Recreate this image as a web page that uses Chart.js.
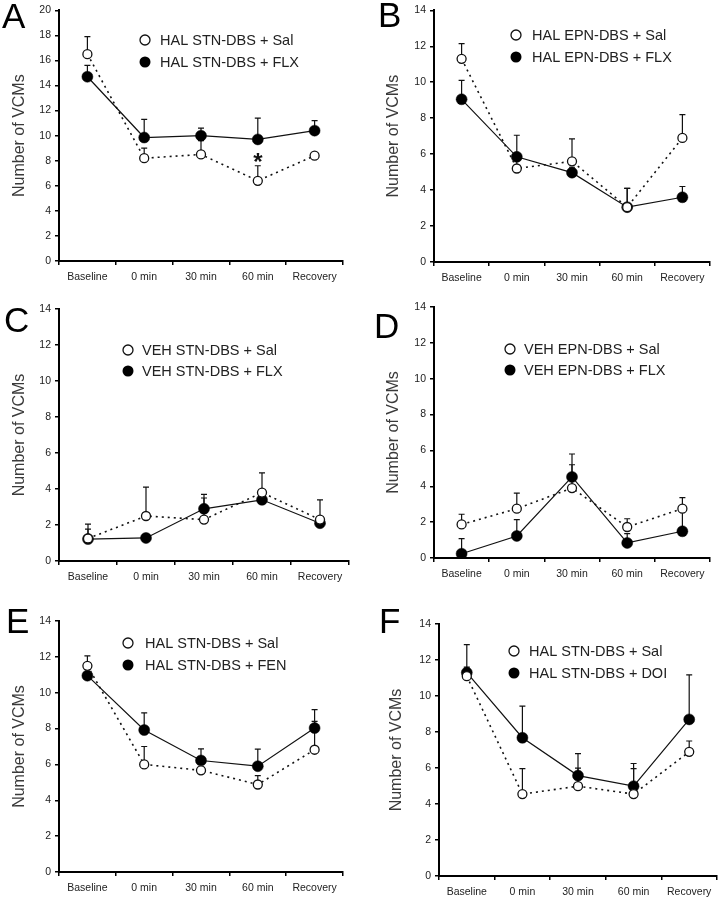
<!DOCTYPE html>
<html><head><meta charset="utf-8">
<script src="https://cdn.jsdelivr.net/npm/chart.js@4/dist/chart.umd.min.js"></script>
<style>
body{margin:0;background:#fff;width:723px;height:899px;position:relative;overflow:hidden}
canvas{position:absolute}
</style></head><body>
<canvas id="cA"></canvas><canvas id="cB"></canvas><canvas id="cC"></canvas>
<canvas id="cD"></canvas><canvas id="cE"></canvas><canvas id="cF"></canvas>
<script>
// ---- data ----
const categories = ['Baseline', '0 min', '30 min', '60 min', 'Recovery'];
const yTicksA = [0, 2, 4, 6, 8, 10, 12, 14, 16, 18, 20];
const yTicks14 = [0, 2, 4, 6, 8, 10, 12, 14];

const salA = [16.5, 8.2, 8.5, 6.4, 8.4];
const salAErr = [1.4, 0.8, 1.1, 1.2, 0.2];
const flxA = [14.7, 9.85, 10.0, 9.7, 10.4];
const flxAErr = [0.9, 1.45, 0.6, 1.7, 0.8];
const legendA = ['HAL STN-DBS + Sal', 'HAL STN-DBS + FLX'];
const starA = {index: 3, value: 8.1, text: '*'};

const salB = [11.3, 5.2, 5.6, 3.05, 6.9];
const salBErr = [0.85, 0.5, 1.25, 1.05, 1.3];
const flxB = [9.05, 5.85, 4.97, 3.05, 3.6];
const flxBErr = [1.05, 1.2, 0.3, 1.05, 0.6];
const legendB = ['HAL EPN-DBS + Sal', 'HAL EPN-DBS + FLX'];

const salC = [1.25, 2.5, 2.3, 3.8, 2.3];
const salCErr = [0.8, 1.6, 1.2, 1.1, 1.1];
const flxC = [1.22, 1.28, 2.9, 3.4, 2.1];
const flxCErr = [0.55, 0.2, 0.8, 0.4, 0.2];
const legendC = ['VEH STN-DBS + Sal', 'VEH STN-DBS + FLX'];

const salD = [1.87, 2.75, 3.9, 1.73, 2.75];
const salDErr = [0.57, 0.87, 1.3, 0.46, 0.62];
const flxD = [0.24, 1.23, 4.52, 0.84, 1.49];
const flxDErr = [0.84, 0.91, 1.28, 0.52, 1.4];
const legendD = ['VEH EPN-DBS + Sal', 'VEH EPN-DBS + FLX'];

const salE = [11.5, 6.0, 5.67, 4.88, 6.82];
const salEErr = [0.55, 1.0, 0.6, 0.5, 1.58];
const flxE = [10.95, 7.92, 6.22, 5.9, 8.03];
const flxEErr = [0.35, 0.95, 0.65, 0.95, 1.03];
const legendE = ['HAL STN-DBS + Sal', 'HAL STN-DBS + FEN'];

const salF = [11.1, 4.55, 4.99, 4.55, 6.9];
const salFErr = [0.5, 1.42, 1.0, 1.42, 0.6];
const flxF = [11.3, 7.68, 5.58, 4.99, 8.7];
const flxFErr = [1.55, 1.76, 1.22, 1.26, 2.47];
const legendF = ['HAL STN-DBS + Sal', 'HAL STN-DBS + DOI'];

const yTitle = 'Number of VCMs';

// ---- layout ----
const FONT = '"Liberation Sans", Arial, sans-serif';
const panels = [
  {id:'cA', letter:'A', x:0, y:0, w:362, h:290, l:59, r:343, t:10, b:261, ticks:yTicksA,
   sal:salA, salErr:salAErr, drug:flxA, drugErr:flxAErr, legend:legendA,
   leg:{cx:145, y1:40, y2:62, tx:160}, lp:{x:2, y:28}, titleX:20, star:starA},
  {id:'cB', letter:'B', x:362, y:0, w:361, h:290, l:72, r:348, t:10, b:262, ticks:yTicks14,
   sal:salB, salErr:salBErr, drug:flxB, drugErr:flxBErr, legend:legendB,
   leg:{cx:154, y1:35, y2:57, tx:170}, lp:{x:16, y:27}, titleX:32},
  {id:'cC', letter:'C', x:0, y:290, w:362, h:300, l:59, r:349, t:19, b:271, ticks:yTicks14,
   sal:salC, salErr:salCErr, drug:flxC, drugErr:flxCErr, legend:legendC,
   leg:{cx:128, y1:60, y2:81, tx:142}, lp:{x:4, y:42}, titleX:20},
  {id:'cD', letter:'D', x:362, y:290, w:361, h:300, l:72, r:348, t:17, b:268, ticks:yTicks14,
   sal:salD, salErr:salDErr, drug:flxD, drugErr:flxDErr, legend:legendD,
   leg:{cx:148, y1:59, y2:80, tx:162}, lp:{x:12, y:48}, titleX:32},
  {id:'cE', letter:'E', x:0, y:590, w:362, h:309, l:59, r:343, t:31, b:282, ticks:yTicks14,
   sal:salE, salErr:salEErr, drug:flxE, drugErr:flxEErr, legend:legendE,
   leg:{cx:128, y1:53, y2:75, tx:145}, lp:{x:6, y:43}, titleX:20},
  {id:'cF', letter:'F', x:362, y:590, w:361, h:309, l:77, r:360, t:34, b:286, ticks:yTicks14,
   sal:salF, salErr:salFErr, drug:flxF, drugErr:flxFErr, legend:legendF,
   leg:{cx:152, y1:61, y2:83, tx:167}, lp:{x:17, y:43}, titleX:35}
];

const decorPlugin = {
  id: 'decor',
  beforeDatasetsDraw(chart, args, opts) {
    const p = opts.panel;
    const ctx = chart.ctx, xs = chart.scales.x, ys = chart.scales.y;
    ctx.save();
    ctx.strokeStyle = '#111';
    ctx.lineWidth = 1.2;
    [[p.sal, p.salErr], [p.drug, p.drugErr]].forEach(([vals, errs]) => {
      vals.forEach((v, i) => {
        const x = xs.getPixelForValue(i);
        const y0 = ys.getPixelForValue(v);
        const y1 = ys.getPixelForValue(v + errs[i]);
        ctx.beginPath();
        ctx.moveTo(x, y0); ctx.lineTo(x, y1);
        ctx.moveTo(x - 3, y1); ctx.lineTo(x + 3, y1);
        ctx.stroke();
      });
    });
    ctx.restore();
  },
  afterDraw(chart, args, opts) {
    const p = opts.panel;
    const ctx = chart.ctx;
    ctx.save();
    // panel letter
    ctx.fillStyle = '#000';
    ctx.font = '35px ' + FONT;
    ctx.textBaseline = 'alphabetic';
    ctx.textAlign = 'left';
    ctx.fillText(p.letter, p.lp.x, p.lp.y);
    // legend
    const L = p.leg;
    ctx.lineWidth = 1.3;
    ctx.strokeStyle = '#111';
    ctx.fillStyle = '#fff';
    ctx.beginPath(); ctx.arc(L.cx, L.y1, 5, 0, Math.PI * 2); ctx.fill(); ctx.stroke();
    ctx.fillStyle = '#000';
    ctx.beginPath(); ctx.arc(L.cx, L.y2, 5.5, 0, Math.PI * 2); ctx.fill();
    ctx.fillStyle = '#222';
    ctx.font = '14.5px ' + FONT;
    ctx.textBaseline = 'middle';
    ctx.fillText(p.legend[0], L.tx, L.y1 + 1);
    ctx.fillText(p.legend[1], L.tx, L.y2 + 1);
    // star annotation
    if (p.star) {
      const xs = chart.scales.x, ys = chart.scales.y;
      ctx.fillStyle = '#111';
      ctx.font = 'bold 24px ' + FONT;
      ctx.textAlign = 'center';
      ctx.textBaseline = 'middle';
      ctx.fillText(p.star.text, xs.getPixelForValue(p.star.index), ys.getPixelForValue(p.star.value) + 4);
    }
    ctx.restore();
  }
};

panels.forEach(p => {
  const cv = document.getElementById(p.id);
  cv.width = p.w; cv.height = p.h;
  cv.style.left = p.x + 'px'; cv.style.top = p.y + 'px';
  cv.style.width = p.w + 'px'; cv.style.height = p.h + 'px';
  const yMax = p.ticks[p.ticks.length - 1];
  new Chart(cv, {
    type: 'line',
    data: {
      labels: categories,
      datasets: [
        {label: p.legend[0], data: p.sal, borderColor: '#111', borderWidth: 1.6,
         borderDash: [2, 4], pointRadius: 4.5, pointBackgroundColor: '#fff',
         pointBorderColor: '#111', pointBorderWidth: 1.3, tension: 0, fill: false},
        {label: p.legend[1], data: p.drug, borderColor: '#111', borderWidth: 1.2,
         pointRadius: 5.5, pointBackgroundColor: '#000', pointBorderColor: '#000',
         pointBorderWidth: 0.5, tension: 0, fill: false}
      ]
    },
    options: {
      responsive: false,
      maintainAspectRatio: false,
      animation: false,
      devicePixelRatio: 1,
      layout: {padding: {top: p.t, right: p.w - p.r, left: 0, bottom: 0}},
      plugins: {legend: {display: false}, tooltip: {enabled: false}, decor: {panel: p}},
      scales: {
        x: {
          type: 'category', offset: true,
          grid: {display: true, offset: true, drawOnChartArea: false, drawTicks: true,
                 tickLength: 4, color: '#000', lineWidth: 1.5},
          border: {display: true, color: '#000', width: 2},
          ticks: {color: '#222', font: {family: FONT, size: 10.5}, padding: 6,
                  maxRotation: 0, autoSkip: false},
          afterFit: s => { s.height = p.h - p.b; }
        },
        y: {
          min: 0, max: yMax,
          afterBuildTicks: s => { s.ticks = p.ticks.map(v => ({value: v})); },
          grid: {display: true, drawOnChartArea: false, drawTicks: true, tickLength: 4,
                 color: '#000', lineWidth: 1.5},
          border: {display: true, color: '#000', width: 2},
          ticks: {color: '#222', font: {family: FONT, size: 10.5}, padding: 4},
          title: {display: true, text: yTitle, color: '#3a3a3a',
                  font: {family: FONT, size: 16}, padding: {top: p.titleX - 9.6, bottom: 0}},
          afterFit: s => { s.width = p.l; }
        }
      }
    },
    plugins: [decorPlugin]
  });
});
</script>
</body></html>
